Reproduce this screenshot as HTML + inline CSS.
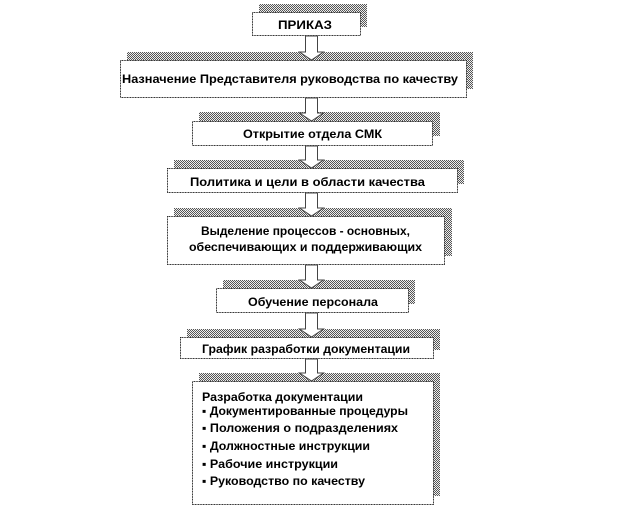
<!DOCTYPE html>
<html><head><meta charset="utf-8"><style>
html,body{margin:0;padding:0;background:#fff}
svg{display:block}
text{font-family:"Liberation Sans","DejaVu Sans",sans-serif;font-weight:bold;font-size:12px;fill:#000}
</style></head><body>
<svg width="624" height="516" viewBox="0 0 624 516" xmlns="http://www.w3.org/2000/svg">
<defs>
<pattern id="h" width="2" height="2" patternUnits="userSpaceOnUse">
<rect width="2" height="2" fill="#eee"/><rect width="1" height="1" fill="#555"/><rect x="1" y="1" width="1" height="1" fill="#555"/>
</pattern>
</defs>
<g fill="url(#h)">
<rect x="259" y="4" width="108" height="23"/>
<rect x="127" y="52" width="346" height="37"/>
<rect x="199" y="112" width="241" height="24"/>
<rect x="174" y="160" width="290" height="24"/>
<rect x="174" y="208" width="278" height="48"/>
<rect x="223" y="280" width="192" height="24"/>
<rect x="187" y="329" width="253" height="21"/>
<rect x="199" y="373" width="241" height="123"/>
</g>
<g fill="#fff" stroke="#222" stroke-width="1" stroke-dasharray="1 0.6">
<rect x="252.5" y="12.5" width="108" height="23"/>
<rect x="120.5" y="60.5" width="346" height="37"/>
<rect x="192.5" y="121.5" width="240" height="24"/>
<rect x="167.5" y="168.5" width="290" height="24"/>
<rect x="167.5" y="216.5" width="277" height="48"/>
<rect x="216.5" y="288.5" width="192" height="24"/>
<rect x="180.5" y="337.5" width="253" height="21"/>
<rect x="192.5" y="381.5" width="241" height="123"/>
</g>
<g fill="#fff" stroke="#444" stroke-width="1">
<polygon points="305.5,36 317.5,36 317.5,52 323.5,52 311.5,60 299.5,52 305.5,52"/>
<polygon points="305.5,98 317.5,98 317.5,113 323.5,113 311.5,121 299.5,113 305.5,113"/>
<polygon points="305.5,146 317.5,146 317.5,160 323.5,160 311.5,168 299.5,160 305.5,160"/>
<polygon points="305.5,193 317.5,193 317.5,208 323.5,208 311.5,216 299.5,208 305.5,208"/>
<polygon points="305.5,265 317.5,265 317.5,280 323.5,280 311.5,288 299.5,280 305.5,280"/>
<polygon points="305.5,313 317.5,313 317.5,329 323.5,329 311.5,337 299.5,329 305.5,329"/>
<polygon points="305.5,359 317.5,359 317.5,373 323.5,373 311.5,381 299.5,373 305.5,373"/>
</g>
<text x="278" y="29" textLength="54" lengthAdjust="spacingAndGlyphs">ПРИКАЗ</text>
<text x="122" y="83" textLength="336" lengthAdjust="spacingAndGlyphs">Назначение  Представителя  руководства  по качеству</text>
<text x="243" y="138" textLength="139" lengthAdjust="spacingAndGlyphs">Открытие  отдела  СМК</text>
<text x="190" y="186" textLength="235" lengthAdjust="spacingAndGlyphs">Политика  и цели в области  качества</text>
<text x="201" y="235" textLength="209" lengthAdjust="spacingAndGlyphs">Выделение  процессов  - основных,</text>
<text x="189" y="251" textLength="233" lengthAdjust="spacingAndGlyphs">обеспечивающих  и поддерживающих</text>
<text x="248" y="306" textLength="130" lengthAdjust="spacingAndGlyphs">Обучение  персонала</text>
<text x="202" y="353" textLength="208" lengthAdjust="spacingAndGlyphs">График  разработки  документации</text>
<text x="202" y="401" textLength="161" lengthAdjust="spacingAndGlyphs">Разработка  документации</text>
<text x="202" y="415" textLength="206" lengthAdjust="spacingAndGlyphs">▪ Документированные  процедуры</text>
<text x="202" y="432" textLength="196" lengthAdjust="spacingAndGlyphs">▪ Положения  о подразделениях</text>
<text x="202" y="450" textLength="168" lengthAdjust="spacingAndGlyphs">▪ Должностные  инструкции</text>
<text x="202" y="468" textLength="136" lengthAdjust="spacingAndGlyphs">▪ Рабочие  инструкции</text>
<text x="202" y="485" textLength="163" lengthAdjust="spacingAndGlyphs">▪ Руководство  по качеству</text>
</svg>
</body></html>
